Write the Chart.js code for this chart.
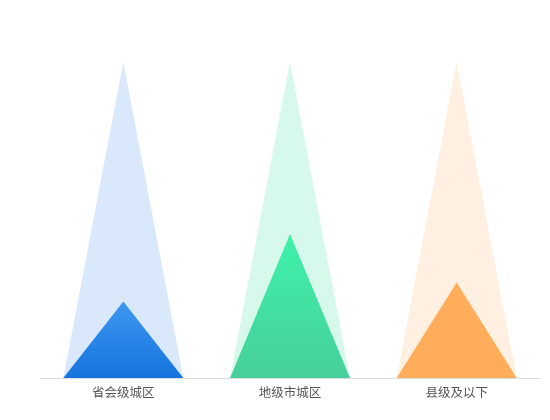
<!DOCTYPE html>
<html>
<head>
<meta charset="utf-8">
<script src="https://cdn.jsdelivr.net/npm/chart.js@4/dist/chart.umd.min.js"></script>
<style>
    html, body { margin: 0; padding: 0; background: #fff; }
    #wrap { width: 550px; height: 420px; }
</style>
</head>
<body>
<div id="wrap"><canvas id="chart" width="550" height="420"></canvas></div>
<script>
// ── data ──
const categories = ['省会级城区', '地级市城区', '县级及以下'];
const shares = [24.2, 45.6, 30.2];
const backdrop = [100, 100, 100];

// per-category colours: [top, bottom] for the front triangle, pale fill behind
const frontColors = [['#3e97f0', '#1473de'], ['#3ef2aa', '#47cf9a'], ['#ffad5b', '#ffad5b']];
const backColors = ['#d9e9fb', '#d7f9ec', '#fff0e1'];

// draw each bar as a triangle: apex at the value, base on the axis
const trianglePlugin = {
    id: 'triangles',
    beforeDatasetDraw(chart, args) {
        const ctx = chart.ctx;
        const isFront = args.meta.index === 0;
        args.meta.data.forEach((bar, i) => {
            const half = bar.width / 2;
            let fill;
            if (isFront) {
                const g = ctx.createLinearGradient(0, bar.y, 0, bar.base);
                g.addColorStop(0, frontColors[i][0]);
                g.addColorStop(1, frontColors[i][1]);
                fill = g;
            } else {
                fill = backColors[i];
            }
            ctx.save();
            ctx.beginPath();
            ctx.moveTo(bar.x - half, bar.base);
            ctx.lineTo(bar.x, bar.y);
            ctx.lineTo(bar.x + half, bar.base);
            ctx.closePath();
            ctx.fillStyle = fill;
            ctx.fill();
            ctx.restore();
        });
        return false;
    }
};

new Chart(document.getElementById('chart'), {
    type: 'bar',
    data: {
        labels: categories,
        datasets: [
            { label: 'share', data: shares, grouped: false, order: 0 },
            { label: 'backdrop', data: backdrop, grouped: false, order: 1 }
        ]
    },
    options: {
        responsive: false,
        animation: false,
        categoryPercentage: 0.72,
        barPercentage: 1,
        layout: { padding: { left: 40, right: 10, top: 62, bottom: 13 } },
        plugins: {
            legend: { display: false },
            tooltip: { enabled: false }
        },
        scales: {
            x: {
                grid: { display: false, drawTicks: false },
                border: { display: true, color: '#dcdcdc', width: 1 },
                ticks: {
                    padding: 7,
                    color: '#555555',
                    font: { family: 'Noto Sans CJK SC', size: 12.5 }
                }
            },
            y: {
                display: false,
                min: 0,
                max: 100
            }
        }
    },
    plugins: [trianglePlugin]
});
</script>
</body>
</html>
